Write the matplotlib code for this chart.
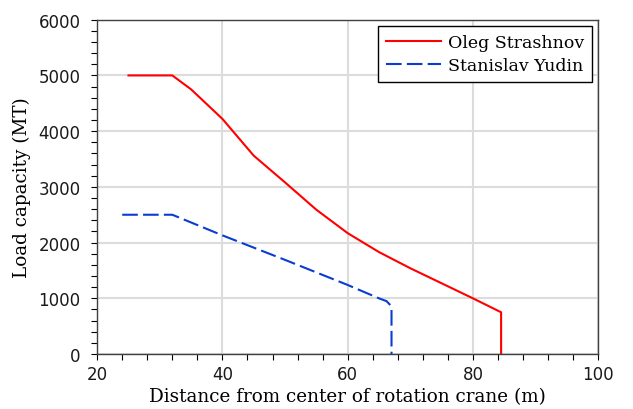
import numpy as np
import matplotlib.pyplot as plt
from matplotlib.ticker import MultipleLocator

# curvas de carga
x_oleg = [25, 32, 35, 40, 45, 50, 55, 60, 65, 70, 75, 80, 84.5, 84.5]
y_oleg = [5000, 5000, 4750, 4220, 3560, 3080, 2590, 2170, 1830, 1540, 1270, 1000, 750, 0]

x_stan = [24, 32, 40, 50, 60, 65, 66.2, 66.8, 67, 67]
y_stan = [2500, 2500, 2130, 1690, 1240, 1000, 950, 880, 800, 0]

labels = ['Oleg Strashnov', 'Stanislav Yudin']

plt.rcParams['font.family'] = 'DejaVu Sans'
serif = 'DejaVu Serif'

fig = plt.figure(figsize=(6.33, 4.10), dpi=100)
ax = fig.add_axes([0.1535, 0.134, 0.7915, 0.8155])

ax.plot(x_oleg, y_oleg, color='#FF0000', lw=1.5, label=labels[0])
ax.plot(x_stan, y_stan, color='#0A3CD2', lw=1.5, dashes=(7.5, 2.5), label=labels[1])

ax.set_xlim(20, 100)
ax.set_ylim(0, 6000)
ax.xaxis.set_major_locator(MultipleLocator(20))
ax.xaxis.set_minor_locator(MultipleLocator(4))
ax.yaxis.set_major_locator(MultipleLocator(1000))
ax.yaxis.set_minor_locator(MultipleLocator(200))
ax.tick_params(which='both', direction='out', length=4, width=0.8, labelsize=12, labelcolor='#1a1a1a')
ax.tick_params(axis='y', pad=8)
ax.tick_params(axis='x', pad=4)
ax.grid(True, which='major', color='#DCDCDC', lw=1.5)
ax.set_axisbelow(True)
for s in ax.spines.values():
    s.set_color('#404040')
    s.set_linewidth(1.0)

ax.set_xlabel('Distance from center of rotation crane (m)', fontfamily=serif, fontsize=13.2, labelpad=3)
ax.set_ylabel('Load capacity (MT)', fontfamily=serif, fontsize=13.2, labelpad=5)

leg = ax.legend(loc='upper right', prop={'family': serif, 'size': 12.5}, fancybox=False,
                edgecolor='black', framealpha=1, handlelength=3.2, borderaxespad=0.35,
                labelspacing=0.38, borderpad=0.45, handletextpad=0.4)
leg.get_frame().set_linewidth(1.0)

plt.savefig('out.png', dpi=100)
